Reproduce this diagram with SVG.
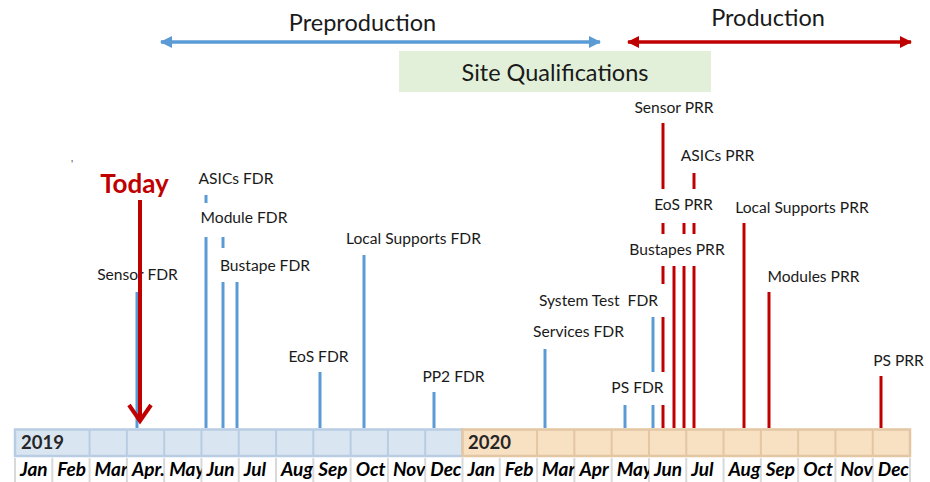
<svg xmlns="http://www.w3.org/2000/svg" width="930" height="482" viewBox="0 0 930 482">
<style>
  .lbl { font-family: Lato, "Liberation Sans", sans-serif; font-size: 15.6px; fill: #1a1a1a; text-anchor: middle; white-space: pre; }
  .title { font-family: Lato, "Liberation Sans", sans-serif; font-size: 23.5px; fill: #1a1a1a; text-anchor: middle; }
  .today { font-family: Lato, "Liberation Sans", sans-serif; font-size: 26px; font-weight: bold; fill: #c00000; text-anchor: middle; }
  .month { font-family: Lato, "Liberation Sans", sans-serif; font-size: 19px; font-weight: bold; font-style: italic; fill: #000; }
  .year { font-family: Lato, "Liberation Sans", sans-serif; font-size: 18.5px; font-weight: bold; fill: #262626; }
  .b { stroke: #5b9bd5; stroke-width: 3; fill: none; }
  .r { stroke: #c00000; stroke-width: 3; fill: none; }
  .sep { stroke: #d9d9d9; stroke-width: 2; }
  .d19 { stroke: #b8cde4; stroke-width: 2; }
  .d20 { stroke: #e3c6a3; stroke-width: 2; }
</style>
<defs>
  <marker id="hb" viewBox="0 0 12 12" refX="11" refY="6" markerWidth="12" markerHeight="12" markerUnits="userSpaceOnUse" orient="auto-start-reverse">
    <path d="M0,0 L12,6 L0,12 z" fill="#5b9bd5"/>
  </marker>
  <marker id="hr" viewBox="0 0 12 12" refX="11" refY="6" markerWidth="12" markerHeight="12" markerUnits="userSpaceOnUse" orient="auto-start-reverse">
    <path d="M0,0 L12,6 L0,12 z" fill="#c00000"/>
  </marker>
</defs>
<rect width="930" height="482" fill="#fff"/>

<!-- Phases -->
<g id="preproduction">
  <text class="title" x="362.5" y="31">Preproduction</text>
  <line x1="161" y1="42" x2="600" y2="42" stroke="#5b9bd5" stroke-width="3.5" marker-start="url(#hb)" marker-end="url(#hb)"/>
</g>
<g id="production">
  <text class="title" x="768" y="26">Production</text>
  <line x1="628" y1="42" x2="911" y2="42" stroke="#c00000" stroke-width="3.5" marker-start="url(#hr)" marker-end="url(#hr)"/>
</g>
<g id="site-qualifications">
  <rect x="399" y="51" width="312" height="41" fill="#e2f0d9"/>
  <text class="title" x="555" y="81">Site Qualifications</text>
</g>

<!-- Timeline bar -->
<g id="timeline">
  <rect x="15" y="429.5" width="447.5" height="26.5" fill="#dae5f2" stroke="#b8cde4" stroke-width="2.5"/>
  <rect x="462.5" y="429.5" width="447.5" height="26.5" fill="#f8e0c3" stroke="#e3c6a3" stroke-width="2.5"/>
  <g class="d19">
    <line x1="89.58" y1="430" x2="89.58" y2="456"/>
    <line x1="126.88" y1="430" x2="126.88" y2="456"/>
    <line x1="164.17" y1="430" x2="164.17" y2="456"/>
    <line x1="201.46" y1="430" x2="201.46" y2="456"/>
    <line x1="238.75" y1="430" x2="238.75" y2="456"/>
    <line x1="276.04" y1="430" x2="276.04" y2="456"/>
    <line x1="313.33" y1="430" x2="313.33" y2="456"/>
    <line x1="350.63" y1="430" x2="350.63" y2="456"/>
    <line x1="387.92" y1="430" x2="387.92" y2="456"/>
    <line x1="425.21" y1="430" x2="425.21" y2="456"/>
  </g>
  <g class="d20">
    <line x1="537.08" y1="430" x2="537.08" y2="456"/>
    <line x1="574.38" y1="430" x2="574.38" y2="456"/>
    <line x1="611.67" y1="430" x2="611.67" y2="456"/>
    <line x1="648.96" y1="430" x2="648.96" y2="456"/>
    <line x1="686.25" y1="430" x2="686.25" y2="456"/>
    <line x1="723.54" y1="430" x2="723.54" y2="456"/>
    <line x1="760.83" y1="430" x2="760.83" y2="456"/>
    <line x1="798.13" y1="430" x2="798.13" y2="456"/>
    <line x1="835.42" y1="430" x2="835.42" y2="456"/>
    <line x1="872.71" y1="430" x2="872.71" y2="456"/>
  </g>
  <text class="year" x="21" y="449">2019</text>
  <text class="year" x="468" y="449">2020</text>

  <g class="sep">
    <line x1="15" y1="458" x2="15" y2="482"/>
    <line x1="52.29" y1="458" x2="52.29" y2="482"/>
    <line x1="89.58" y1="458" x2="89.58" y2="482"/>
    <line x1="126.88" y1="458" x2="126.88" y2="482"/>
    <line x1="164.17" y1="458" x2="164.17" y2="482"/>
    <line x1="201.46" y1="458" x2="201.46" y2="482"/>
    <line x1="238.75" y1="458" x2="238.75" y2="482"/>
    <line x1="276.04" y1="458" x2="276.04" y2="482"/>
    <line x1="313.33" y1="458" x2="313.33" y2="482"/>
    <line x1="350.63" y1="458" x2="350.63" y2="482"/>
    <line x1="387.92" y1="458" x2="387.92" y2="482"/>
    <line x1="425.21" y1="458" x2="425.21" y2="482"/>
    <line x1="462.5" y1="458" x2="462.5" y2="482"/>
    <line x1="499.79" y1="458" x2="499.79" y2="482"/>
    <line x1="537.08" y1="458" x2="537.08" y2="482"/>
    <line x1="574.38" y1="458" x2="574.38" y2="482"/>
    <line x1="611.67" y1="458" x2="611.67" y2="482"/>
    <line x1="648.96" y1="458" x2="648.96" y2="482"/>
    <line x1="686.25" y1="458" x2="686.25" y2="482"/>
    <line x1="723.54" y1="458" x2="723.54" y2="482"/>
    <line x1="760.83" y1="458" x2="760.83" y2="482"/>
    <line x1="798.13" y1="458" x2="798.13" y2="482"/>
    <line x1="835.42" y1="458" x2="835.42" y2="482"/>
    <line x1="872.71" y1="458" x2="872.71" y2="482"/>
    <line x1="910" y1="458" x2="910" y2="482"/>
  </g>

  <svg x="15" y="457" width="37.3" height="25"><text class="month" x="5" y="19">Jan</text></svg>
  <svg x="52.29" y="457" width="37.3" height="25"><text class="month" x="5" y="19">Feb</text></svg>
  <svg x="89.58" y="457" width="37.3" height="25"><text class="month" x="5" y="19">Mar</text></svg>
  <svg x="126.88" y="457" width="37.3" height="25"><text class="month" x="5" y="19">Apr.</text></svg>
  <svg x="164.17" y="457" width="37.3" height="25"><text class="month" x="5" y="19">May</text></svg>
  <svg x="201.46" y="457" width="37.3" height="25"><text class="month" x="5" y="19">Jun</text></svg>
  <svg x="238.75" y="457" width="37.3" height="25"><text class="month" x="5" y="19">Jul</text></svg>
  <svg x="276.04" y="457" width="37.3" height="25"><text class="month" x="5" y="19">Aug</text></svg>
  <svg x="313.33" y="457" width="37.3" height="25"><text class="month" x="5" y="19">Sep</text></svg>
  <svg x="350.63" y="457" width="37.3" height="25"><text class="month" x="5" y="19">Oct</text></svg>
  <svg x="387.92" y="457" width="37.3" height="25"><text class="month" x="5" y="19">Nov</text></svg>
  <svg x="425.21" y="457" width="37.3" height="25"><text class="month" x="5" y="19">Dec</text></svg>
  <svg x="462.5" y="457" width="37.3" height="25"><text class="month" x="5" y="19">Jan</text></svg>
  <svg x="499.79" y="457" width="37.3" height="25"><text class="month" x="5" y="19">Feb</text></svg>
  <svg x="537.08" y="457" width="37.3" height="25"><text class="month" x="5" y="19">Mar</text></svg>
  <svg x="574.38" y="457" width="37.3" height="25"><text class="month" x="5" y="19">Apr</text></svg>
  <svg x="611.67" y="457" width="37.3" height="25"><text class="month" x="5" y="19">May</text></svg>
  <svg x="648.96" y="457" width="37.3" height="25"><text class="month" x="5" y="19">Jun</text></svg>
  <svg x="686.25" y="457" width="37.3" height="25"><text class="month" x="5" y="19">Jul</text></svg>
  <svg x="723.54" y="457" width="37.3" height="25"><text class="month" x="5" y="19">Aug</text></svg>
  <svg x="760.83" y="457" width="37.3" height="25"><text class="month" x="5" y="19">Sep</text></svg>
  <svg x="798.13" y="457" width="37.3" height="25"><text class="month" x="5" y="19">Oct</text></svg>
  <svg x="835.42" y="457" width="37.3" height="25"><text class="month" x="5" y="19">Nov</text></svg>
  <svg x="872.71" y="457" width="37.3" height="25"><text class="month" x="5" y="19">Dec</text></svg>
</g>

<text x="71" y="168" font-family="Liberation Sans, sans-serif" font-size="11" fill="#44546a">'</text>

<!-- FDR milestones (blue) -->
<g id="sensor-fdr">
  <text class="lbl" x="137.5" y="280">Sensor FDR</text>
  <line class="b" x1="137" y1="292" x2="137" y2="428"/>
</g>
<g id="asics-fdr">
  <text class="lbl" x="236" y="184">ASICs FDR</text>
  <line class="b" x1="206" y1="195" x2="206" y2="203"/>
</g>
<g id="module-fdr">
  <text class="lbl" x="244" y="223">Module FDR</text>
  <line class="b" x1="206" y1="237" x2="206" y2="428"/>
  <line class="b" x1="223" y1="237" x2="223" y2="248"/>
</g>
<g id="bustape-fdr">
  <text class="lbl" x="265" y="271">Bustape FDR</text>
  <line class="b" x1="223" y1="282" x2="223" y2="428"/>
  <line class="b" x1="237" y1="282" x2="237" y2="428"/>
</g>
<g id="eos-fdr">
  <text class="lbl" x="318.5" y="362">EoS FDR</text>
  <line class="b" x1="320" y1="372" x2="320" y2="428"/>
</g>
<g id="local-supports-fdr">
  <text class="lbl" x="413.5" y="244">Local Supports FDR</text>
  <line class="b" x1="364" y1="255" x2="364" y2="428"/>
</g>
<g id="pp2-fdr">
  <text class="lbl" x="453.5" y="382">PP2 FDR</text>
  <line class="b" x1="434" y1="392" x2="434" y2="428"/>
</g>
<g id="services-fdr">
  <text class="lbl" x="578.5" y="337">Services FDR</text>
  <line class="b" x1="545" y1="349" x2="545" y2="428"/>
</g>
<g id="system-test-fdr">
  <text class="lbl" x="598.5" y="306">System Test  FDR</text>
  <line class="b" x1="653" y1="317" x2="653" y2="372"/>
  <line class="b" x1="653" y1="405" x2="653" y2="428"/>
</g>
<g id="ps-fdr">
  <text class="lbl" x="637.5" y="393">PS FDR</text>
  <line class="b" x1="625" y1="405" x2="625" y2="428"/>
</g>

<!-- PRR milestones (red) -->
<g id="sensor-prr">
  <text class="lbl" x="674" y="113">Sensor PRR</text>
  <line class="r" x1="663" y1="123" x2="663" y2="189"/>
  <line class="r" x1="663" y1="223" x2="663" y2="234"/>
  <line class="r" x1="663" y1="266" x2="663" y2="284"/>
  <line class="r" x1="663" y1="317" x2="663" y2="372"/>
  <line class="r" x1="663" y1="405" x2="663" y2="428"/>
</g>
<g id="asics-prr">
  <text class="lbl" x="717.5" y="161">ASICs PRR</text>
  <line class="r" x1="694" y1="173" x2="694" y2="189"/>
  <line class="r" x1="694" y1="223" x2="694" y2="234"/>
  <line class="r" x1="694" y1="266" x2="694" y2="428"/>
</g>
<g id="eos-prr">
  <text class="lbl" x="683.5" y="210">EoS PRR</text>
  <line class="r" x1="684" y1="223" x2="684" y2="234"/>
  <line class="r" x1="684" y1="266" x2="684" y2="428"/>
</g>
<g id="bustapes-prr">
  <text class="lbl" x="677" y="255">Bustapes PRR</text>
  <line class="r" x1="674" y1="266" x2="674" y2="428"/>
</g>
<g id="local-supports-prr">
  <text class="lbl" x="802" y="213">Local Supports PRR</text>
  <line class="r" x1="744" y1="223" x2="744" y2="428"/>
</g>
<g id="modules-prr">
  <text class="lbl" x="813.5" y="282">Modules PRR</text>
  <line class="r" x1="769" y1="292" x2="769" y2="428"/>
</g>
<g id="ps-prr">
  <text class="lbl" x="898.5" y="366">PS PRR</text>
  <line class="r" x1="881" y1="376" x2="881" y2="428"/>
</g>

<!-- Today -->
<g id="today">
  <text class="today" x="134.5" y="193">Today</text>
  <line x1="140" y1="200" x2="140" y2="420" stroke="#c00000" stroke-width="4"/>
  <polyline points="129,405 140,421 151,405" fill="none" stroke="#c00000" stroke-width="4" stroke-linejoin="miter"/>
</g>
</svg>
